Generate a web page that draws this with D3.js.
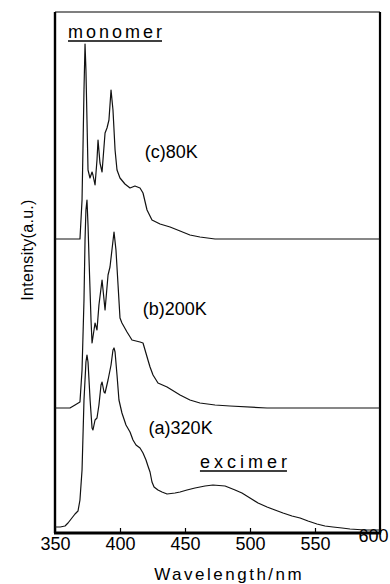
<!DOCTYPE html>
<meta charset="utf-8">
<head>
    <script src="https://d3js.org/d3.v7.min.js"></script>
    <style>
        body { margin: 0; background: #fff; }
        text { font-family: "Liberation Sans", Arial, Helvetica, sans-serif; fill: #000; }
        .curve { fill: none; stroke: #111; stroke-width: 1.2; stroke-linejoin: round; }
        .frame { stroke: #000; }
    </style>
</head>
<body>
<div id="graph"></div>
<script>
    // wavelengths (nm) and intensities (a.u., above each trace's own baseline)
    var wlA = [350,354,357.7,360,363,365.4,367.7,369.2,370.8,372.3,373.8,374.6,375.4,377,378.5,379.2,380.8,382.3,383.8,385.4,386.2,387.7,388.5,390.8,393.1,394.6,395.4,396.2,397.7,399.2,401.5,404.6,407.7,410,412.3,415.4,417.7,420,421.5,423.1,424.6,426.2,429.2,432.3,436.2,442.3,446.2,451.5,457.7,465.4,471.5,480.8,488.5,493.8,500,506.2,513.1,519.2,525.4,532.3,538.5,544.6,551.5,557.7,563.8,570.8,576.9,588.5,600];
    var intA = [6,6,7,10,15,19,22,33,63,133,171,178,171,133,105,103,113,115,128,148,151,141,140,153,168,183,185,181,158,133,120,108,101,93,88,85,80,73,67,61,51,46,43,41,39,40,41,43,45,47,48,47,43,40,35,30,26,23,20,17,15,12,9,7,6,5,4,3,3];

    var wlB = [350,361.5,365.4,369.2,370.8,372.3,373.1,373.8,374.6,375.4,376.2,377.7,378.5,380,380.8,382.3,383.8,386.2,388.5,390.8,392.3,393.8,395.4,396.9,398.5,400,401.5,405.4,409.2,415.4,417.7,421.5,423.1,425.4,429.2,436.2,446.2,453.8,461.5,473.1,484.6,513.1,600];
    var intB = [0,0,3,6,38,108,168,198,208,183,148,88,65,78,85,78,103,128,98,133,141,158,176,158,123,90,85,76,68,66,65,48,41,33,25,21,13,8,5,3,2,0,0];

    var wlC = [350,369.2,370.8,371.5,372.3,373.1,373.8,374.6,375.4,376.9,378.5,379.2,380.8,382.3,383.1,384.6,386.2,388.5,390,391.5,393.1,394.6,396.2,397.7,400,403.8,407.7,411.5,415.4,417.7,420.8,424.6,430.8,438.5,446.2,453.8,461.5,473.1,600];
    var intC = [0,0,39,89,149,195,169,119,69,61,67,64,54,79,99,76,67,106,111,119,149,129,89,69,61,55,51,53,51,46,29,19,15,12,8,4,2,0,0];

    var seriesNames = ["(a)320K", "(b)200K", "(c)80K"];
    var seriesOffsets = [0, 125, 294];   // vertical shift of each trace (a.u.)
    var xTicks = [350, 400, 450, 500, 550, 600];

    var margin = {top: 12, right: 10, bottom: 51, left: 55},
        width = 390 - margin.left - margin.right,
        height = 584 - margin.top - margin.bottom;

    var svg = d3.select("#graph")
      .append("svg")
        .attr("width", 390)
        .attr("height", 584)
      .append("g")
        .attr("transform", "translate(" + margin.left + "," + margin.top + ")");

    var x = d3.scaleLinear().domain([350, 600]).range([0, width]);
    var y = d3.scaleLinear().domain([0, 520]).range([height, 1]);

    // X axis with short inward ticks
    var xAxis = svg.append("g")
        .attr("transform", "translate(0," + height + ")")
        .call(d3.axisBottom(x).tickValues(xTicks).tickSize(-5).tickPadding(4));
    xAxis.select(".domain").remove();
    xAxis.selectAll(".tick line").attr("stroke", "#000").attr("stroke-width", 1.2);
    xAxis.selectAll(".tick text")
        .style("font-size", "18px")
        .attr("fill", "#000");
    // last label sits raised and pulled inside the frame
    xAxis.selectAll(".tick text").filter(function(d) { return d === 600; })
        .attr("dx", "-7").attr("dy", "0.25em");

    // frame
    svg.append("line").attr("class", "frame").attr("x1", 0).attr("x2", width).attr("y1", 0).attr("y2", 0).attr("stroke-width", 1.2);
    svg.append("line").attr("class", "frame").attr("x1", 0).attr("x2", 0).attr("y1", 0).attr("y2", height).attr("stroke-width", 2.4);
    svg.append("line").attr("class", "frame").attr("x1", width).attr("x2", width).attr("y1", 0).attr("y2", height).attr("stroke-width", 2.2);
    svg.append("line").attr("class", "frame").attr("x1", -1).attr("x2", width + 1).attr("y1", height).attr("y2", height).attr("stroke-width", 2.8);

    // traces
    var traces = [
        {wl: wlA, v: intA, off: seriesOffsets[0]},
        {wl: wlB, v: intB, off: seriesOffsets[1]},
        {wl: wlC, v: intC, off: seriesOffsets[2]}
    ];
    var line = d3.line()
        .x(function(d) { return x(d[0]); })
        .y(function(d) { return y(d[1]); });
    traces.forEach(function(t) {
        var pts = t.wl.map(function(w, i) { return [w, t.v[i] + t.off]; });
        svg.append("path").datum(pts).attr("class", "curve").attr("d", line);
    });

    // trace labels
    var labelPos = [[422, 99], [417.5, 218], [419, 375]];
    seriesNames.forEach(function(name, i) {
        svg.append("text")
            .attr("x", x(labelPos[i][0]))
            .attr("y", y(labelPos[i][1]))
            .style("font-size", "18px")
            .text(name);
    });

    // underlined notes
    function note(txt, wl, v, spacing) {
        var t = svg.append("text")
            .attr("x", x(wl))
            .attr("y", y(v))
            .style("font-size", "18px")
            .style("letter-spacing", spacing + "px")
            .text(txt);
        var bb = t.node().getBBox();
        svg.append("line")
            .attr("x1", bb.x).attr("x2", bb.x + bb.width - spacing)
            .attr("y1", y(v) + 3).attr("y2", y(v) + 3)
            .attr("stroke", "#000").attr("stroke-width", 1.3);
    }
    note("monomer", 360, 495, 3);
    note("excimer", 461.5, 65, 4);

    // axis titles
    svg.append("text")
        .attr("x", x(484))
        .attr("y", height + 47)
        .attr("text-anchor", "middle")
        .style("font-size", "17px")
        .style("letter-spacing", "2.5px")
        .text("Wavelength/nm");

    svg.append("text")
        .attr("transform", "rotate(-90)")
        .attr("x", -(250 - margin.top))
        .attr("y", -22)
        .attr("text-anchor", "middle")
        .style("font-size", "16px")
        .style("letter-spacing", "0.3px")
        .text("Intensity(a.u.)");
</script>
</body>
